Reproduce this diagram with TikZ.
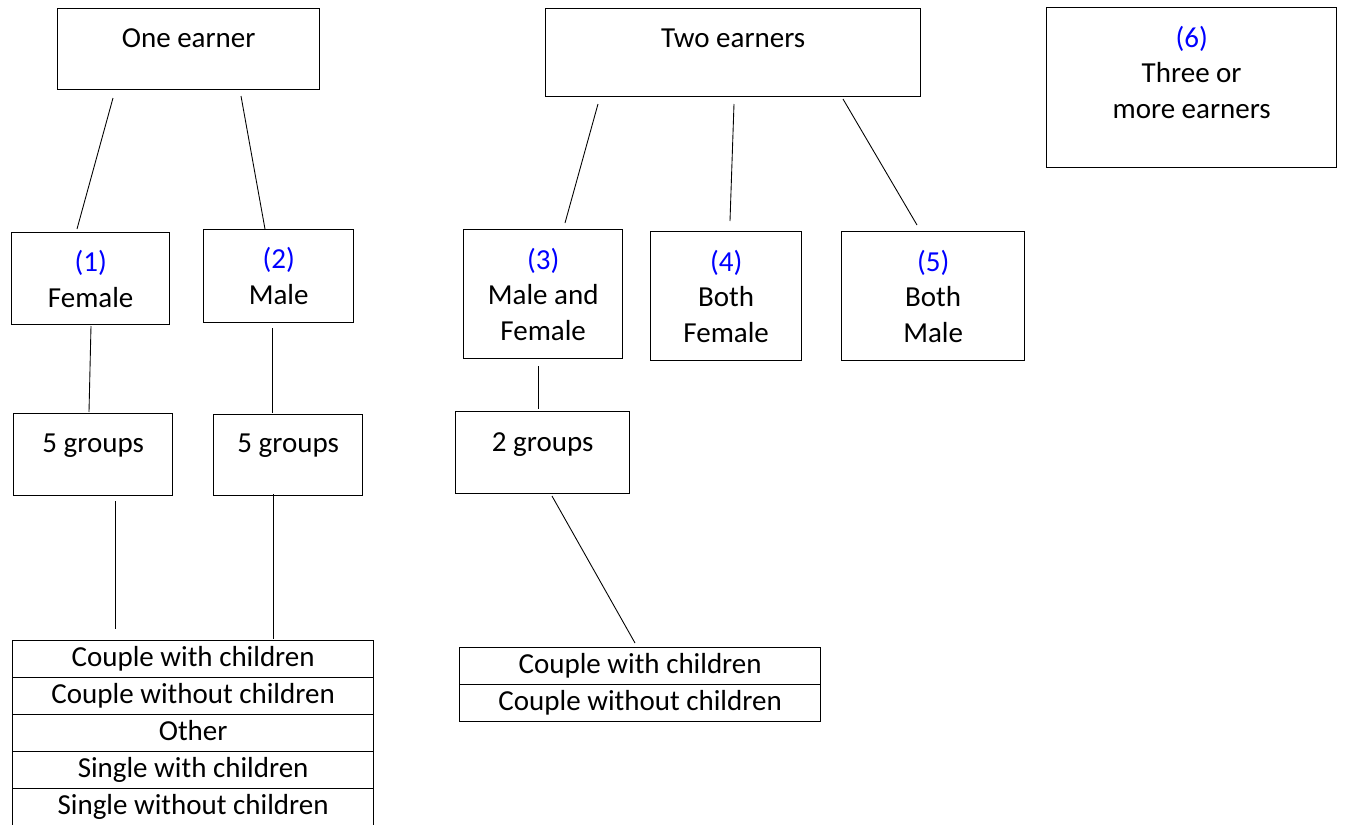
\documentclass[tikz,border=0pt]{standalone}
\usepackage{fontspec}
\setmainfont{Carlito}
\usetikzlibrary{calc}
\usetikzlibrary{positioning}

\begin{document}
\begin{tikzpicture}[x=0.02cm,y=-0.02cm,
  box/.style={draw,line width=0.8pt,anchor=north west,inner sep=0pt},
  txt/.style={anchor=base,align=center,inner sep=0pt,font=\fontsize{16.5}{20.1}\selectfont},
  row/.style={box,minimum width=7.22cm,minimum height=0.74cm,text height=11.5pt,text depth=3.5pt,font=\fontsize{16.5}{20.1}\selectfont},
  link/.style={line width=0.5pt}]

\useasboundingbox (0,0) rectangle (1347,825);

% top level
\node[box,minimum width=5.24cm,minimum height=1.62cm] (one) at (57,8) {};
\node[box,minimum width=7.5cm,minimum height=1.76cm] (two) at (545,8) {};
\node[box,minimum width=5.8cm,minimum height=3.2cm] (six) at (1046,7) {};
\node[txt] (tone) at ($(one.north)+(0,39)$) {One earner};
\node[txt] (ttwo) at ($(two.north)+(0,39)$) {Two earners};
\node[txt] (tsix) at ($(six.north)+(0,111)$) {\textcolor{blue}{(6)}\\Three or\\more earners};

% second level
\node[box,minimum width=3.16cm,minimum height=1.84cm] (fem) at (11,232) {};
\node[box,minimum width=3.0cm,minimum height=1.86cm] (mal) at (203,229) {};
\node[box,minimum width=3.18cm,minimum height=2.58cm] (mf) at (463,229) {};
\node[box,minimum width=3.02cm,minimum height=2.58cm] (bf) at (650,231) {};
\node[box,minimum width=3.66cm,minimum height=2.58cm] (bm) at (841,231) {};
\node[txt] (tfem) at ($(fem.north)+(0,75)$) {\textcolor{blue}{(1)}\\Female};
\node[txt] (tmal) at ($(mal.north)+(0,75)$) {\textcolor{blue}{(2)}\\Male};
\node[txt] (tmf) at ($(mf.north)+(0,111)$) {\textcolor{blue}{(3)}\\Male and\\Female};
\node[txt] (tbf) at ($(bf.north)+(0,111)$) {\textcolor{blue}{(4)}\\Both\\Female};
\node[txt] (tbm) at ($(bm.north)+(0,111)$) {\textcolor{blue}{(5)}\\Both\\Male};

% groups
\node[box,minimum width=3.18cm,minimum height=1.64cm] (gfem) at (13,413) {};
\node[box,minimum width=2.98cm,minimum height=1.62cm] (gmal) at (213,414) {};
\node[box,minimum width=3.48cm,minimum height=1.64cm] (gmf) at (455,411) {};
\node[txt] (tgfem) at ($(gfem.north)+(0,39)$) {5 groups};
\node[txt] (tgmal) at ($(gmal.north)+(0,38)$) {5 groups};
\node[txt] (tgmf) at ($(gmf.north)+(0,40)$) {2 groups};

% household types
\foreach \t [count=\i] in {Couple with children,Couple without children,Other,Single with children,Single without children}
  \node[row] (l\i) at (12,603+37*\i) {\t};
\foreach \t [count=\i] in {Couple with children,Couple without children}
  \node[row] (r\i) at (459,610+37*\i) {\t};

% connectors
\coordinate (a1) at (113,98);  \coordinate (a2) at (77,229);
\coordinate (b1) at (241,96);  \coordinate (b2) at (265,229);
\coordinate (c1) at (598,104); \coordinate (c2) at (565,223);
\coordinate (d1) at (734,104); \coordinate (d2) at (730,221);
\coordinate (e1) at (843,99);  \coordinate (e2) at (917,225);
\coordinate (f1) at (91,326);  \coordinate (f2) at (89,412);
\coordinate (g1) at (272,328); \coordinate (g2) at (272,413);
\coordinate (h1) at (538,366); \coordinate (h2) at (538,409);
\coordinate (i1) at (115,501); \coordinate (i2) at (115,629);
\coordinate (j1) at (273,494); \coordinate (j2) at (273,639);
\coordinate (k1) at (552,496); \coordinate (k2) at (635,643);
\foreach \p in {a,b,c,d,e,f,g,h,i,j,k}
  \draw[link] (\p1)--(\p2);

\end{tikzpicture}
\end{document}
